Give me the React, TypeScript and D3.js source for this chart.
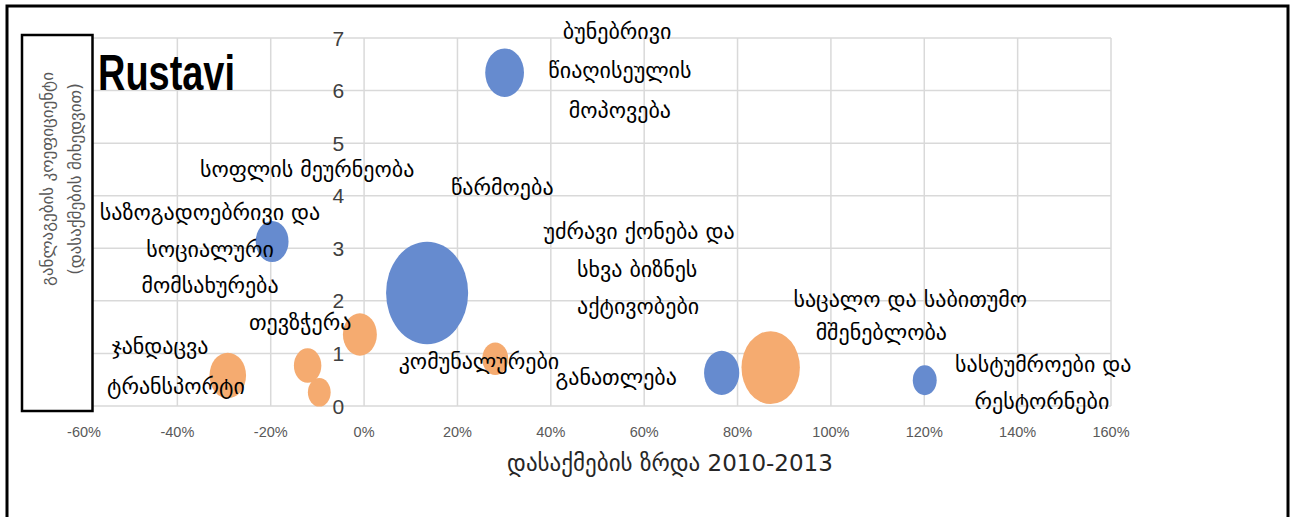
import React, { useEffect, useRef } from 'react';
import * as d3 from 'd3';

// axis ticks
const xTicks = [-0.6, -0.4, -0.2, 0, 0.2, 0.4, 0.6, 0.8, 1.0, 1.2, 1.4, 1.6];
const yTicks = [0, 1, 2, 3, 4, 5, 6, 7];

// blue series: growth 2010-2013, location quotient, bubble size
const blueGrowth = [0.301, -0.197, 0.135, 0.766, 1.201];
const blueLQ = [6.34, 3.13, 2.15, 0.63, 0.49];
const blueSize = [22.3, 16.0, 100, 18.4, 8.5];

// orange series
const orangeGrowth = [-0.009, -0.292, -0.121, -0.096, 0.281, 0.871];
const orangeLQ = [1.36, 0.58, 0.77, 0.26, 0.9, 0.73];
const orangeSize = [17.1, 19.8, 11.2, 7.7, 10.0, 50.6];

// sector labels (text, growth, LQ of the line)
const labelText = [
  'ბუნებრივი', 'წიაღისეულის', 'მოპოვება',
  'სოფლის მეურნეობა',
  'საზოგადოებრივი და', 'სოციალური', 'მომსახურება',
  'წარმოება',
  'უძრავი ქონება და', 'სხვა ბიზნეს', 'აქტივობები',
  'თევზჭერა', 'ჯანდაცვა', 'ტრანსპორტი',
  'კომუნალურები', 'განათლება',
  'საცალო და საბითუმო', 'მშენებლობა',
  'სასტუმროები და', 'რესტორნები',
];
const labelX = [
  0.542, 0.548, 0.548,
  -0.122,
  -0.33, -0.33, -0.33,
  0.296,
  0.589, 0.585, 0.587,
  -0.137, -0.437, -0.403,
  0.246, 0.54,
  1.17, 1.108,
  1.455, 1.452,
];
const labelY = [
  7.11, 6.37, 5.61,
  4.49,
  3.67, 2.97, 2.28,
  4.15,
  3.31, 2.59, 1.88,
  1.58, 1.12, 0.36,
  0.84, 0.53,
  2.02, 1.39,
  0.78, 0.08,
];

const W = 1294;
const H = 517;
const GEO = '"DejaVu Sans", sans-serif';
const NARROW = '"Liberation Sans Narrow", "Liberation Sans", sans-serif';

export default function App() {
  const svgRef = useRef<SVGSVGElement>(null);

  useEffect(() => {
    if (!svgRef.current) return;
    const svg = d3.select(svgRef.current);
    svg.selectAll('*').remove();

    const x = d3.scaleLinear().domain([-0.6, 1.6]).range([84, 1111]);
    const y = d3.scaleLinear().domain([0, 7]).range([406, 38]);
    const ry = d3.scaleSqrt().domain([0, 100]).range([0, 51.3]);
    const aspect = 0.8; // chart is stretched vertically
    const pct = (d: number) => `${Math.round(d * 100)}%`; // hyphen minus like excel

    // outer frame
    svg.append('rect')
      .attr('x', 7).attr('y', 6).attr('width', 1281).attr('height', 530)
      .attr('fill', '#fff').attr('stroke', '#000').attr('stroke-width', 3);

    // grid
    const grid = svg.append('g');
    grid.selectAll('line.v').data(xTicks).join('line')
      .attr('class', 'v')
      .attr('x1', d => x(d)).attr('x2', d => x(d))
      .attr('y1', y(7)).attr('y2', y(0))
      .attr('stroke', '#d9d9d9').attr('stroke-width', 1.5);
    grid.selectAll('line.h').data(yTicks).join('line')
      .attr('class', 'h')
      .attr('x1', x(-0.6)).attr('x2', x(1.6))
      .attr('y1', d => y(d)).attr('y2', d => y(d))
      .attr('stroke', '#d9d9d9').attr('stroke-width', 1.5);

    // x tick labels
    svg.append('g').selectAll('text').data(xTicks).join('text')
      .attr('x', d => x(d)).attr('y', 432)
      .attr('dy', '0.35em')
      .attr('text-anchor', 'middle')
      .style('font-family', NARROW).style('font-size', '14.5px')
      .attr('fill', '#595959')
      .text(d => pct(d));

    // y tick labels, axis crosses at 0%
    svg.append('g').selectAll('text').data(yTicks).join('text')
      .attr('x', x(0) - 20).attr('y', d => y(d))
      .attr('dy', '0.36em')
      .attr('text-anchor', 'end')
      .style('font-family', NARROW).style('font-size', '21px')
      .attr('fill', '#404040')
      .text(d => d);

    // bubbles
    const blue = blueGrowth.map((g, i) => ({ g, lq: blueLQ[i], s: blueSize[i], c: '#668bcf' }));
    const orange = orangeGrowth.map((g, i) => ({ g, lq: orangeLQ[i], s: orangeSize[i], c: '#f5ab70' }));
    svg.append('g').selectAll('ellipse').data([...blue, ...orange]).join('ellipse')
      .attr('cx', d => x(d.g)).attr('cy', d => y(d.lq))
      .attr('rx', d => ry(d.s) * aspect).attr('ry', d => ry(d.s))
      .attr('fill', d => d.c);

    // labels
    svg.append('g').selectAll('text').data(labelText).join('text')
      .attr('x', (_, i) => x(labelX[i])).attr('y', (_, i) => y(labelY[i]))
      .attr('dy', '0.32em')
      .attr('text-anchor', 'middle')
      .style('font-family', GEO).style('font-size', '22px')
      .attr('fill', '#000')
      .text(d => d);

    // x axis title
    svg.append('text')
      .attr('x', 670).attr('y', 463).attr('dy', '0.35em')
      .attr('text-anchor', 'middle')
      .style('font-family', GEO).style('font-size', '23px')
      .attr('fill', '#262626')
      .text('დასაქმების ზრდა 2010-2013');

    // y axis title box
    svg.append('rect')
      .attr('x', 22).attr('y', 35).attr('width', 70.5).attr('height', 376)
      .attr('fill', '#fff').attr('stroke', '#000').attr('stroke-width', 2.5);
    const yt = svg.append('text')
      .attr('transform', 'translate(61,179) rotate(-90)')
      .attr('text-anchor', 'middle')
      .style('font-family', GEO).style('font-size', '17px')
      .attr('fill', '#595959');
    yt.append('tspan').attr('x', 0).attr('y', -14).attr('dy', '0.35em').text('განლაგების კოეფიციენტი');
    yt.append('tspan').attr('x', 0).attr('y', 14).attr('dy', '0.35em').text('(დასაქმების მიხედვით)');

    // title
    svg.append('text')
      .attr('x', 98).attr('y', 90)
      .attr('textLength', 137).attr('lengthAdjust', 'spacingAndGlyphs')
      .style('font-family', NARROW).style('font-size', '50px').style('font-weight', 'bold')
      .attr('fill', '#000')
      .text('Rustavi');
  }, []);

  return (
    <svg
      ref={svgRef}
      width={W}
      height={H}
      style={{ position: 'absolute', left: 0, top: 0, display: 'block' }}
    />
  );
}
